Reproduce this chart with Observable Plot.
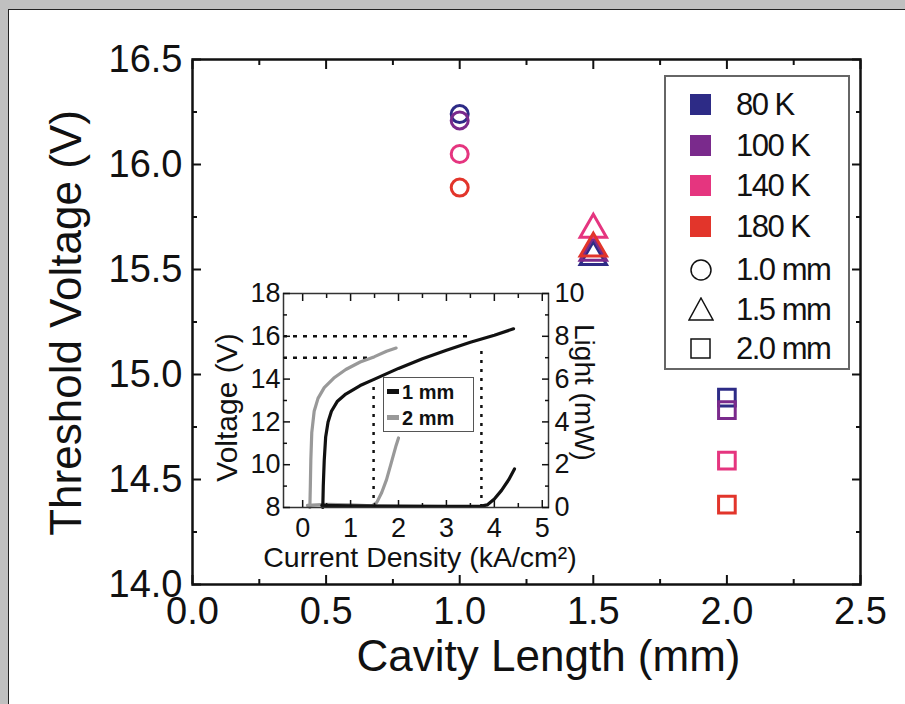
<!DOCTYPE html>
<html><head><meta charset="utf-8">
<script src="https://cdn.jsdelivr.net/npm/d3@7"></script>
<script src="https://cdn.jsdelivr.net/npm/@observablehq/plot@0.6"></script>
<style>
html,body{margin:0;padding:0;width:905px;height:704px;overflow:hidden;background:#c0c0c0;font-family:"Liberation Sans",Arial,sans-serif;}
#panel{position:absolute;left:8px;top:9px;width:910px;height:710px;background:#fff;border:1.5px solid #222;}
#main{position:absolute;left:0;top:0;}
#inset{position:absolute;left:200px;top:260px;}
#legend{position:absolute;left:664px;top:75px;width:182px;height:291px;border:2px solid #666;background:#fff;}
#legend .row{position:absolute;left:0;height:40px;width:182px;}
#legend svg{position:absolute;left:22px;top:7px;}
#legend span{position:absolute;left:70px;top:2px;font-size:31px;letter-spacing:-1.5px;color:#111;line-height:36px;}
#ilegend{position:absolute;left:383px;top:377px;width:89px;height:53px;border:1.5px solid #555;background:#fff;}
#ilegend .row{position:absolute;left:0;width:89px;height:26px;}
#ilegend .ln{position:absolute;left:3px;top:10px;width:12px;height:5px;}
#ilegend span{position:absolute;left:18px;top:1px;font-size:20px;font-weight:bold;color:#111;line-height:24px;}
</style></head><body>
<div id="panel"></div><div id="main"></div><div id="inset"></div><div id="legend"></div><div id="ilegend"></div>
<script>
// ---- main chart data ----
const temps = ["80 K", "100 K", "140 K", "180 K"];
const tempColors = ["#2d2b86", "#7a2a8c", "#e5357f", "#e2352b"];
const lengths = ["1.0 mm", "1.5 mm", "2.0 mm"];
const lengthValues = [1.0, 1.5, 2.0];
const lengthSymbols = ["circle", "triangle", "square"];
const vth80  = [16.24, 15.56, 14.89];
const vth100 = [16.21, 15.58, 14.83];
const vth140 = [16.05, 15.69, 14.59];
const vth180 = [15.89, 15.60, 14.38];
const xTicks = [0, 0.5, 1.0, 1.5, 2.0, 2.5];
const yTicks = [14.0, 14.5, 15.0, 15.5, 16.0, 16.5];

// ---- inset data ----
const j1mmV = [0.42,0.43,0.45,0.48,0.53,0.6,0.72,0.9,1.2,1.5,2.0,2.5,3.0,3.5,4.0,4.4];
const v1mm  = [8,9,10.2,11.3,12.0,12.5,12.95,13.3,13.7,14.0,14.5,14.95,15.35,15.72,16.05,16.35];
const j2mmV = [0.15,0.16,0.17,0.19,0.24,0.32,0.45,0.65,0.9,1.2,1.5,1.75,1.95];
const v2mm  = [8,9,10.2,11.5,12.5,13.1,13.6,14.05,14.45,14.8,15.05,15.3,15.45];
const j1mmL = [0.4,1.0,2.0,3.0,3.7,3.85,4.0,4.15,4.3,4.42];
const l1mm  = [0.1,0.08,0.06,0.05,0.05,0.12,0.4,0.8,1.3,1.8];
const j2mmL = [0.1,0.5,1.0,1.45,1.55,1.65,1.75,1.85,1.95,2.0];
const l2mm  = [0.1,0.15,0.12,0.08,0.25,0.7,1.3,2.1,2.9,3.25];
const guideJ = [1.48, 3.73];      // threshold current densities
const guideV = [15, 16];          // threshold voltages
const guideJend = [1.48, 3.5];    // where horizontal guides stop
const guideVtop = [13.9, 15.3];   // where vertical guides stop
const insetXTicks = [0,1,2,3,4,5];
const insetVTicks = [8,10,12,14,16,18];
const insetLTicks = [0,2,4,6,8,10];
const insetLegend = ["1 mm", "2 mm"];
const insetColors = ["#111", "#999"];

const FONT = '"Liberation Sans", Arial, sans-serif';
const TICK = "#111";

const rows = [];
[vth80, vth100, vth140, vth180].forEach((arr, ti) => {
  arr.forEach((v, li) => rows.push({temp: temps[ti], len: lengthValues[li], lenLabel: lengths[li], v}));
});
const byLen = l => rows.filter(d => d.lenLabel === l);

const range = (a, b, s) => d3.range(a, b + s / 2, s);
const xMinor = range(0.25, 2.25, 0.5);
const yMinor = range(14.25, 16.25, 0.5);

// inward ticks on all four sides (negative tick size points into the frame)
function inwardTicks(xs, ys, len, sw) {
  const o = {text: null, label: null, tickSize: -len, strokeWidth: sw, stroke: TICK};
  return [
    Plot.axisX({...o, anchor: "bottom", ticks: xs}),
    Plot.axisX({...o, anchor: "top", ticks: xs}),
    Plot.axisY({...o, anchor: "left", ticks: ys}),
    Plot.axisY({...o, anchor: "right", ticks: ys})
  ];
}

const main = Plot.plot({
  width: 905, height: 704,
  marginLeft: 192, marginRight: 45, marginTop: 59, marginBottom: 120,
  style: {background: "transparent", fontFamily: FONT, color: "#111", overflow: "visible"},
  x: {domain: [0, 2.5]},
  y: {domain: [14, 16.5]},
  color: {domain: temps, range: tempColors},
  marks: [
    Plot.frame({stroke: "#111", strokeWidth: 2.5}),
    ...inwardTicks(xTicks, yTicks, 9, 2),
    ...inwardTicks(xMinor, yMinor, 5, 2),
    Plot.axisX({anchor: "bottom", ticks: xTicks, tickSize: 0, tickPadding: 13, fontSize: 38, tickFormat: d3.format(".1f"), label: null}),
    Plot.axisY({anchor: "left", ticks: yTicks, tickSize: 0, tickPadding: 10, fontSize: 38, tickFormat: d3.format(".1f"), label: null}),
    Plot.text(["Cavity Length (mm)"], {frameAnchor: "bottom", textAnchor: "middle", lineAnchor: "middle", dx: 22, dy: 72, fontSize: 44, fill: "#111"}),
    Plot.text(["Threshold Voltage (V)"], {frameAnchor: "left", textAnchor: "middle", lineAnchor: "middle", dx: -126, dy: 1, rotate: -90, fontSize: 44, fill: "#111"}),
    Plot.dot(byLen("1.0 mm"), {x: "len", y: "v", stroke: "temp", symbol: "circle", r: 8.5, strokeWidth: 3}),
    Plot.dot(byLen("1.5 mm"), {x: "len", y: "v", stroke: "temp", symbol: "triangle", r: 9.8, strokeWidth: 3}),
    Plot.dot(byLen("2.0 mm"), {x: "len", y: "v", stroke: "temp", symbol: "square", r: 9.4, strokeWidth: 3})
  ]
});
document.getElementById("main").appendChild(main);

// ---- inset ----
const line1V = j1mmV.map((j, i) => ({j, y: v1mm[i]}));
const line2V = j2mmV.map((j, i) => ({j, y: v2mm[i]}));
const line1L = j1mmL.map((j, i) => ({j, y: l1mm[i] + 8}));   // light on right axis shares pixel space
const line2L = j2mmL.map((j, i) => ({j, y: l2mm[i] + 8}));
const guides = guideJ.map((j, i) => ({j, v: guideV[i], jEnd: guideJend[i], vTop: guideVtop[i]}));
const ixMinor = range(0.5, 4.5, 1);
const ivMinor = range(9, 17, 2);

const inset = Plot.plot({
  width: 390, height: 320,
  marginLeft: 83, marginRight: 42, marginTop: 33, marginBottom: 73,
  style: {background: "transparent", fontFamily: FONT, color: "#111", overflow: "visible"},
  x: {domain: [-0.4, 5.13]},
  y: {domain: [8, 18]},
  marks: [
    Plot.ruleY(guides, {y: "v", x1: -0.4, x2: "jEnd", stroke: "#111", strokeWidth: 2.5, strokeDasharray: "4,6"}),
    Plot.ruleX(guides, {x: "j", y1: 8, y2: "vTop", stroke: "#111", strokeWidth: 2.5, strokeDasharray: "3,6"}),
    Plot.line(line2V, {x: "j", y: "y", stroke: "#999", strokeWidth: 3.2}),
    Plot.line(line2L, {x: "j", y: "y", stroke: "#999", strokeWidth: 3.2}),
    Plot.line(line1V, {x: "j", y: "y", stroke: "#111", strokeWidth: 3.2}),
    Plot.line(line1L, {x: "j", y: "y", stroke: "#111", strokeWidth: 3.2}),
    Plot.frame({stroke: "#333", strokeWidth: 1.5}),
    ...inwardTicks(insetXTicks, insetVTicks, 7, 1.5),
    ...inwardTicks(ixMinor, ivMinor, 4, 1.5),
    Plot.axisX({anchor: "bottom", ticks: insetXTicks, tickSize: 0, tickPadding: 10, fontSize: 27, tickFormat: d3.format("d"), label: null}),
    Plot.axisY({anchor: "left", ticks: insetVTicks, tickSize: 0, tickPadding: 3, fontSize: 27, tickFormat: d3.format("d"), label: null}),
    Plot.axisY({anchor: "right", ticks: insetLTicks.map(d => d + 8), tickSize: 0, tickPadding: 6, fontSize: 27,
      tickFormat: d => String(insetLTicks[insetVTicks.indexOf(d)]), label: null}),
    Plot.text(["Voltage (V)"], {frameAnchor: "left", textAnchor: "middle", lineAnchor: "middle", dx: -56, dy: 7, rotate: -90, fontSize: 30, fill: "#111"}),
    Plot.text(["Light (mW)"], {frameAnchor: "right", textAnchor: "middle", lineAnchor: "middle", dx: 35, dy: -8, rotate: 90, fontSize: 28, fill: "#111"}),
    Plot.text(["Current Density (kA/cm²)"], {frameAnchor: "bottom", textAnchor: "middle", lineAnchor: "middle", dx: 4, dy: 50, fontSize: 28.5, fill: "#111"})
  ]
});
document.getElementById("inset").appendChild(inset);

// ---- main legend ----
const leg = document.getElementById("legend");
const rowY = [8, 49, 89, 130, 173, 213, 252];
temps.forEach((t, i) => {
  const r = document.createElement("div"); r.className = "row"; r.style.top = rowY[i] + "px";
  r.innerHTML = `<svg width="26" height="26"><rect x="2" y="2" width="21" height="21" fill="${tempColors[i]}"/></svg><span>${t}</span>`;
  leg.appendChild(r);
});
const symPaths = {
  circle: `<circle cx="13" cy="13" r="10" fill="none" stroke="#111" stroke-width="1.5"/>`,
  triangle: `<path d="M13,1 L25,23 L1,23 Z" fill="none" stroke="#111" stroke-width="1.5"/>`,
  square: `<rect x="3" y="3" width="19" height="19" fill="none" stroke="#111" stroke-width="1.5"/>`
};
lengths.forEach((l, i) => {
  const r = document.createElement("div"); r.className = "row"; r.style.top = rowY[4 + i] + "px";
  r.innerHTML = `<svg width="26" height="26">${symPaths[lengthSymbols[i]]}</svg><span>${l}</span>`;
  leg.appendChild(r);
});

// ---- inset legend ----
const il = document.getElementById("ilegend");
insetLegend.forEach((t, i) => {
  const r = document.createElement("div"); r.className = "row"; r.style.top = (i * 26 + 1) + "px";
  r.innerHTML = `<div class="ln" style="background:${insetColors[i]}"></div><span>${t}</span>`;
  il.appendChild(r);
});
</script>
</body></html>
